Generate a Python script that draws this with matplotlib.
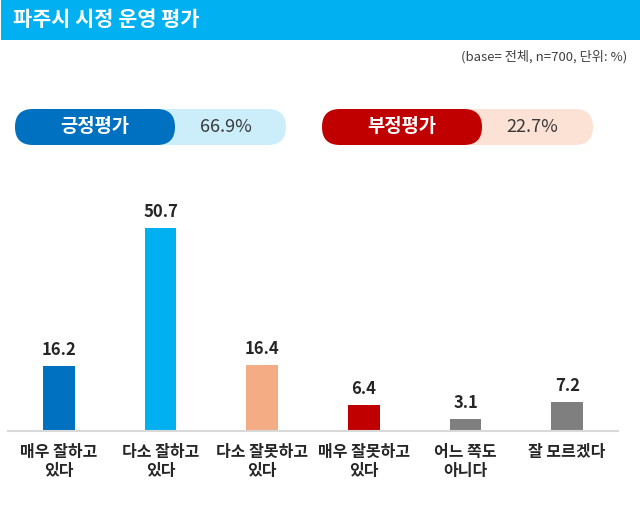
import matplotlib.pyplot as plt
from matplotlib.patches import FancyBboxPatch, Rectangle

plt.rcParams['font.family'] = ['Noto Sans CJK KR', 'DejaVu Sans']

# data
categories = ['매우 잘하고\n있다', '다소 잘하고\n있다', '다소 잘못하고\n있다',
              '매우 잘못하고\n있다', '어느 쪽도\n아니다', '잘 모르겠다']
values = [16.2, 50.7, 16.4, 6.4, 3.1, 7.2]
bar_colors = ['#0070C0', '#00B0F0', '#F4AC84', '#C00000', '#7F7F7F', '#7F7F7F']

title = '파주시 시정 운영 평가'
base_note = '(base= 전체, n=700, 단위: %)'
summary_labels = ['긍정평가', '부정평가']
summary_values = [66.9, 22.7]
summary_dark = ['#0070C0', '#C00000']
summary_light = ['#CCEEFB', '#FBE2D5']

W, H = 640, 507
fig = plt.figure(figsize=(W / 100, H / 100), dpi=100)
fig.patch.set_facecolor('white')

# overlay in pixel coords for header and pills
bg = fig.add_axes([0, 0, 1, 1])
bg.set_xlim(0, W)
bg.set_ylim(H, 0)
bg.axis('off')

bg.add_patch(Rectangle((1, 0), W - 1, 40, color='#00B0F0', lw=0))
bg.text(13, 20, title, color='white', fontsize=15, fontweight='bold',
        va='center', ha='left')
bg.text(627, 57, base_note, color='#404040', fontsize=9.5,
        va='center', ha='right')

pill_x = [15, 322]
pill_w, dark_w = 271, 160
pill_y, pill_h = 109, 36
for i in range(2):
    x0 = pill_x[i]
    r = pill_h / 2
    bg.add_patch(FancyBboxPatch((x0, pill_y), pill_w, pill_h,
                                boxstyle=f'round,pad=0,rounding_size={r}',
                                fc=summary_light[i], ec='none'))
    bg.add_patch(FancyBboxPatch((x0, pill_y), dark_w, pill_h,
                                boxstyle=f'round,pad=0,rounding_size={r}',
                                fc=summary_dark[i], ec='none'))
    bg.text(x0 + dark_w / 2, pill_y + pill_h / 2, summary_labels[i], color='white',
            fontsize=13.5, fontweight='bold', ha='center', va='center')
    bg.text(x0 + dark_w + (pill_w - dark_w) / 2 - 5, pill_y + pill_h / 2,
            f'{summary_values[i]}%', color='#3A3A3A', fontsize=13,
            fontweight='medium', ha='center', va='center')

# bar chart
ax = fig.add_axes([8 / W, 1 - 431 / H, 610 / W, 240 / H])
x = range(len(categories))
bars = ax.bar(x, values, width=0.31, color=bar_colors)
for b, v in zip(bars, values):
    ax.annotate(f'{v}', (b.get_x() + b.get_width() / 2, v),
                xytext=(0, 5), textcoords='offset points',
                ha='center', va='bottom', fontsize=12, fontweight='bold',
                color='#262626')
ax.set_xlim(-0.5, len(categories) - 0.5)
ax.set_ylim(0, 60)
ax.set_xticks(list(x))
ax.set_xticklabels(categories, fontsize=11.5, color='#262626',
                   fontweight='bold', linespacing=1.25)
ax.tick_params(axis='x', length=0, pad=9)
ax.set_yticks([])
for s in ['top', 'right', 'left']:
    ax.spines[s].set_visible(False)
ax.spines['bottom'].set_color('#D9D9D9')
ax.spines['bottom'].set_linewidth(1.5)
ax.patch.set_alpha(0)

fig.savefig('out.png', dpi=100, facecolor='white')
